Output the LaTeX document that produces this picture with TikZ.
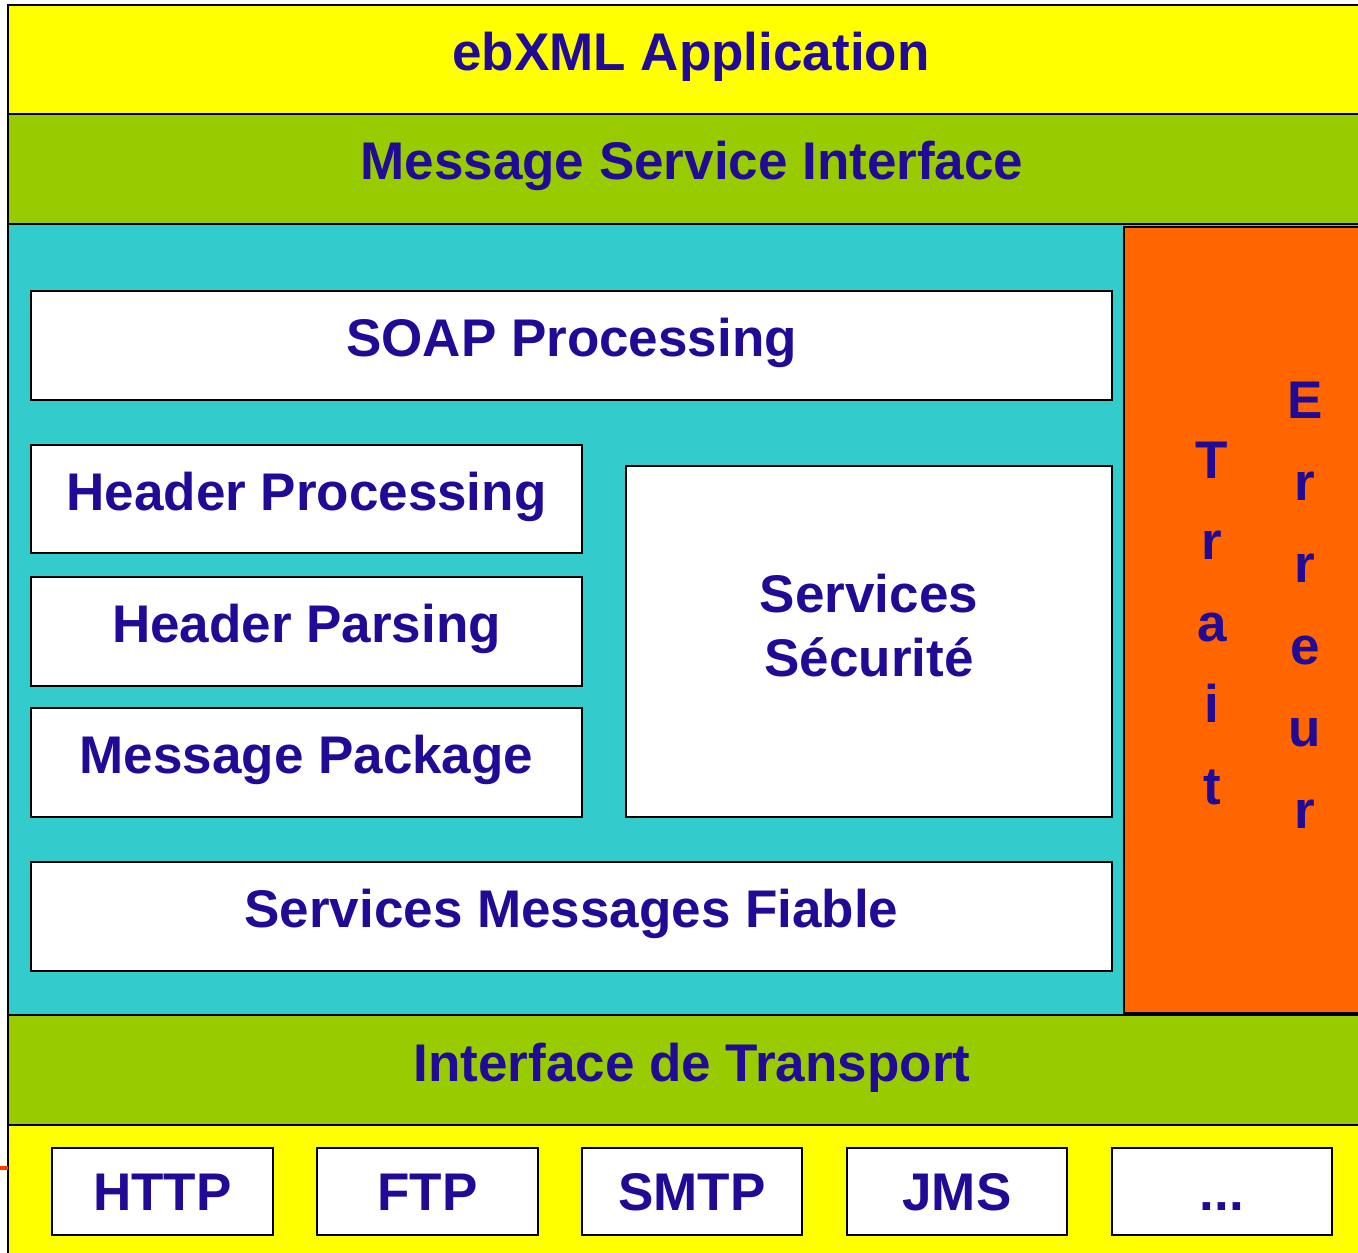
\documentclass[tikz,border=0pt]{standalone}
\usepackage{fontspec}
\setmainfont{Liberation Sans}
\definecolor{txtblue}{RGB}{32,10,150}
\definecolor{lyellow}{RGB}{255,255,0}
\definecolor{lgreen}{RGB}{153,204,0}
\definecolor{lcyan}{RGB}{51,204,204}
\definecolor{lorange}{RGB}{255,102,0}
\definecolor{tickred}{RGB}{255,60,0}
\begin{document}
\begin{tikzpicture}[x=1pt,y=-1pt,
  layer/.style={draw=black,line width=2.5pt,anchor=north west,inner sep=0pt,outer sep=0pt},
  box/.style={draw=black,fill=white,line width=2.5pt,anchor=north west,inner sep=0pt,outer sep=0pt,
    text=txtblue,font=\fontsize{53}{64}\selectfont\bfseries,align=center,text height=38pt,text depth=16pt},
  pbox/.style={box,text depth=0pt},
  lbl/.style={text=txtblue,font=\fontsize{53}{64}\selectfont\bfseries,align=center,inner sep=0pt},
  clbl/.style={lbl,text height=38pt,text depth=0pt}]
\useasboundingbox (0,0) rectangle (1358,1253);
\begin{scope}
\clip (0,0) rectangle (1358,1253);
% layers
\node[layer,fill=lyellow,minimum width=1400pt,minimum height=109pt] (app) at (8,5) {};
\node[layer,fill=lgreen,minimum width=1400pt,minimum height=110pt] (msi) at (8,114) {};
\node[layer,fill=lcyan,minimum width=1400pt,minimum height=791pt] (core) at (8,224) {};
\node[layer,fill=lorange,minimum width=300pt,minimum height=786pt] (err) at (1124,227) {};
\node[layer,fill=lgreen,minimum width=1400pt,minimum height=110pt] (tr) at (8,1015) {};
\node[layer,fill=lyellow,minimum width=1400pt,minimum height=200pt] (proto) at (8,1125) {};
\coordinate (tick) at (0,1168);
\draw[tickred,line width=4pt] (tick) -- (proto.west |- tick);
\end{scope}
% layer labels
\node[clbl] (appl) at (691,51) {ebXML Application};
\node[clbl] (msil) at (692,160) {Message Service Interface};
\node[clbl] (trl) at (692,1062) {Interface de Transport};
% inner boxes
\node[box,minimum width=1081pt,minimum height=109pt] (soap) at (31,291) {SOAP Processing};
\node[box,minimum width=551pt,minimum height=108pt] (hproc) at (31,445) {Header Processing};
\node[box,minimum width=551pt,minimum height=109pt] (hpars) at (31,577) {Header Parsing};
\node[box,minimum width=551pt,minimum height=109pt] (mpkg) at (31,708) {Message Package};
\node[box,minimum width=486pt,minimum height=351pt] (sec) at (626,466) {};
\node[lbl] (secl) at (869,626) {Services\\Sécurité};
\node[box,minimum width=1081pt,minimum height=109pt] (fiable) at (31,862) {Services Messages Fiable};
% error column text
\node[lbl,font=\fontsize{53}{81.5}\selectfont\bfseries] (trait) at (1212,623) {T\\r\\a\\i\\t};
\node[lbl,font=\fontsize{53}{82}\selectfont\bfseries] (erreur) at (1305,605) {E\\r\\r\\e\\u\\r};
% protocol boxes
\node[pbox,minimum width=221pt,minimum height=87pt] (http) at (52,1148) {HTTP};
\node[pbox,minimum width=221pt,minimum height=87pt] (ftp) at (317,1148) {FTP};
\node[pbox,minimum width=220pt,minimum height=87pt] (smtp) at (582,1148) {SMTP};
\node[pbox,minimum width=220pt,minimum height=87pt] (jms) at (847,1148) {JMS};
\node[pbox,minimum width=220pt,minimum height=87pt] (etc) at (1112,1148) {...};
\end{tikzpicture}
\end{document}
